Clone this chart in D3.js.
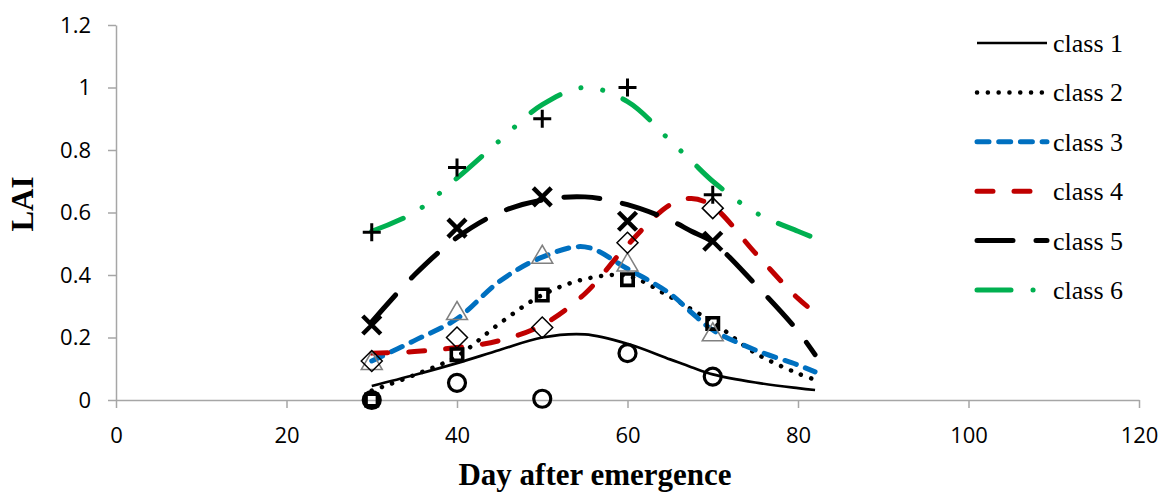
<!DOCTYPE html>
<html>
<head>
<meta charset="utf-8">
<script src="https://cdn.jsdelivr.net/npm/d3@7"></script>
<style>
  body { margin: 0; background: #fff; }
  .axis path, .axis line { stroke: #a6a6a6; stroke-width: 1.5px; }
  .axis text { font-family: "Open Sans", sans-serif; font-size: 22px; fill: #000; }
</style>
</head>
<body>
<script>
var width = 1161;
var height = 493;

// observed LAI (markers)
var days = [30, 40, 50, 60, 70];
var obs1 = [0.0, 0.055, 0.004, 0.15, 0.075];
var obs2 = [0.0, 0.145, 0.336, 0.385, 0.245];
var obs3 = [0.12, 0.28, 0.46, 0.435, 0.212];
var obs4 = [0.125, 0.2, 0.232, 0.503, 0.614];
var obs5 = [0.24, 0.55, 0.65, 0.572, 0.508];
var obs6 = [0.537, 0.744, 0.9, 1.0, 0.657];

// fitted curves
var fitDays = [30, 35, 40, 45, 50, 55, 60, 65, 67.5, 70, 75, 80, 82];
var fit1 = [0.045, 0.08, 0.118, 0.16, 0.2, 0.21, 0.18, 0.13, 0.105, 0.082, 0.056, 0.038, 0.032];
var fit2 = [0.03, 0.08, 0.14, 0.245, 0.336, 0.387, 0.397, 0.33, 0.29, 0.25, 0.15, 0.085, 0.065];
var fit3 = [0.125, 0.19, 0.26, 0.38, 0.457, 0.49, 0.42, 0.34, 0.28, 0.224, 0.16, 0.112, 0.09];
var fit4 = [0.15, 0.155, 0.168, 0.19, 0.24, 0.34, 0.496, 0.625, 0.645, 0.62, 0.47, 0.325, 0.28];
var fit5 = [0.25, 0.40, 0.52, 0.60, 0.64, 0.65, 0.625, 0.575, 0.54, 0.505, 0.37, 0.22, 0.145];
var fit6 = [0.54, 0.60, 0.71, 0.83, 0.945, 1.0, 0.955, 0.83, 0.765, 0.70, 0.60, 0.54, 0.518];

var classNames = ["class 1", "class 2", "class 3", "class 4", "class 5", "class 6"];
var xTicks = [0, 20, 40, 60, 80, 100, 120];
var yTicks = [0, 0.2, 0.4, 0.6, 0.8, 1, 1.2];

var x = d3.scaleLinear().domain([0, 120]).range([116, 1139]);
var y = d3.scaleLinear().domain([0, 1.2]).range([400, 25]);

// line styles per class
var styles = [
  {color: "#000", w: 2.7, dash: null},
  {color: "#000", w: 4.5, dash: "0.1 10.7"},
  {color: "#0070C0", w: 5, dash: "12 9.7"},
  {color: "#C00000", w: 5, dash: "16 21"},
  {color: "#000", w: 5, dash: "36 23"},
  {color: "#00B050", w: 5, dash: "34 22 0.1 22 0.1 22"}
];

var fits = [fit1, fit2, fit3, fit4, fit5, fit6];
var obs = [obs1, obs2, obs3, obs4, obs5, obs6];
var markers = ["circle", "square", "triangle", "diamond", "x", "plus"];

var svg = d3.select("body").append("svg")
    .attr("width", width)
    .attr("height", height);

// axes
var xAxis = svg.append("g")
    .attr("class", "axis")
    .attr("transform", "translate(0,400)")
    .call(d3.axisBottom(x).tickValues(xTicks).tickSize(8).tickSizeOuter(0));
xAxis.selectAll("text").attr("y", 43).attr("dy", 0);

var yAxis = svg.append("g")
    .attr("class", "axis")
    .attr("transform", "translate(116,0)")
    .call(d3.axisLeft(y).tickValues(yTicks).tickSize(8).tickSizeOuter(0)
      .tickFormat(function(d) { return String(+d.toFixed(1)); }));
yAxis.selectAll("text").attr("x", -25);

// fitted lines
var line = d3.line()
    .x(function(d) { return x(d[0]); })
    .y(function(d) { return y(d[1]); })
    .curve(d3.curveCatmullRom.alpha(0.5));

function styleIt(sel, s) {
  sel.attr("fill", "none")
    .attr("stroke", s.color)
    .attr("stroke-width", s.w)
    .attr("stroke-linecap", s.dash ? "round" : "butt")
    .attr("stroke-dasharray", s.dash);
}

fits.forEach(function(f, i) {
  var pts = fitDays.map(function(d, j) { return [d, f[j]]; });
  svg.append("path")
    .datum(pts)
    .attr("d", line)
    .call(styleIt, styles[i]);
});

// markers
function markerPath(type) {
  switch (type) {
    case "circle": return d3.arc()({innerRadius: 0, outerRadius: 8.5, startAngle: 0, endAngle: 2 * Math.PI});
    case "square": return "M-5.7,-5.7H5.7V5.7H-5.7Z";
    case "triangle": return "M0,-11L10.5,7H-10.5Z";
    case "diamond": return "M0,-10.5L10.5,0L0,10.5L-10.5,0Z";
    case "x": return "M-9,-9L9,9M-9,9L9,-9";
    case "plus": return "M-9,0H9M0,-9V9";
  }
}
var markerStyle = {
  circle: {stroke: "#000", w: 3.2},
  square: {stroke: "#000", w: 3.6},
  triangle: {stroke: "#808080", w: 1.5},
  diamond: {stroke: "#000", w: 1.5},
  x: {stroke: "#000", w: 4.5},
  plus: {stroke: "#000", w: 3}
};

obs.forEach(function(o, i) {
  var m = markers[i];
  svg.append("g").selectAll("path")
    .data(o)
    .enter()
    .append("path")
    .attr("transform", function(d, j) { return "translate(" + x(days[j]) + "," + y(d) + ")"; })
    .attr("d", markerPath(m))
    .attr("fill", "none")
    .attr("stroke", markerStyle[m].stroke)
    .attr("stroke-width", markerStyle[m].w);
});

// legend
var legend = svg.append("g").attr("transform", "translate(977,43)");
classNames.forEach(function(name, i) {
  var row = legend.append("g").attr("transform", "translate(0," + (i * 49.4) + ")");
  row.append("path")
    .attr("d", "M0,0H70")
    .call(styleIt, styles[i]);
  row.append("text")
    .attr("x", 76)
    .attr("y", 9)
    .style("font-family", "'Liberation Serif', 'Times New Roman', serif")
    .style("font-size", "26px")
    .text(name);
});

// axis titles
svg.append("text")
    .attr("transform", "translate(33,204) rotate(-90)")
    .attr("text-anchor", "middle")
    .style("font-family", "'Liberation Serif', 'Times New Roman', serif")
    .style("font-weight", "bold")
    .style("font-size", "31px")
    .text("LAI");

svg.append("text")
    .attr("x", 595)
    .attr("y", 485)
    .attr("text-anchor", "middle")
    .style("font-family", "'Liberation Serif', 'Times New Roman', serif")
    .style("font-weight", "bold")
    .style("font-size", "31px")
    .text("Day after emergence");
</script>
</body>
</html>
